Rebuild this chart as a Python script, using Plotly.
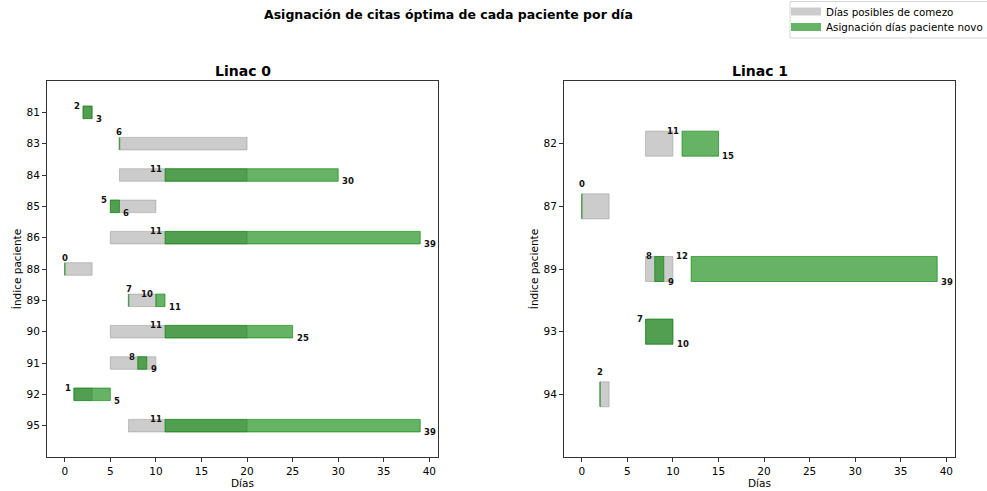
import plotly.graph_objects as go

# ---------------- data ----------------
title_text = "Asignación de citas óptima de cada paciente por día"
subplot_titles = ["Linac 0", "Linac 1"]
legend_possible = "Días posibles de comezo"
legend_assign = "Asignación días paciente novo"
x_axis_title = "Días"
y_axis_title = "Índice paciente"
x_ticks = [0, 5, 10, 15, 20, 25, 30, 35, 40]

# Linac 0
linac0_patients = [81, 83, 84, 85, 86, 88, 89, 90, 91, 92, 95]
linac0_possible_start = [2, 6, 6, 5, 5, 0, 7, 5, 5, 1, 7]
linac0_possible_end = [3, 20, 20, 10, 20, 3, 10, 20, 10, 3, 20]
linac0_assign_patient = [81, 83, 84, 85, 86, 88, 89, 89, 90, 91, 92, 95]
linac0_assign_start = [2, 6, 11, 5, 11, 0, 7, 10, 11, 8, 1, 11]
linac0_assign_end = [3, 6, 30, 6, 39, 0, 7, 11, 25, 9, 5, 39]

# Linac 1
linac1_patients = [82, 87, 89, 93, 94]
linac1_possible_start = [7, 0, 7, 7, 2]
linac1_possible_end = [10, 3, 10, 10, 3]
linac1_assign_patient = [82, 87, 89, 89, 93, 94]
linac1_assign_start = [11, 0, 8, 12, 7, 2]
linac1_assign_end = [15, 0, 9, 39, 10, 2]

# ---------------- styles ----------------
FONT = "DejaVu Sans"
GREY_FILL = "rgba(128,128,128,0.4)"
GREY_LINE = "rgba(128,128,128,0.4)"
GREEN_FILL = "rgba(0,128,0,0.6)"
GREEN_LINE = "rgba(0,128,0,0.6)"
BAR_H = 0.4
W, H = 987, 491

fig = go.Figure()
annotations = []


def px_x(p):
    return p / W


def px_y(p):
    return 1 - p / H


domains_x = [[px_x(47), px_x(438)], [px_x(564), px_x(955)]]
domain_y = [px_y(457), px_y(81)]

datasets = [
    (linac0_patients, linac0_possible_start, linac0_possible_end,
     linac0_assign_patient, linac0_assign_start, linac0_assign_end),
    (linac1_patients, linac1_possible_start, linac1_possible_end,
     linac1_assign_patient, linac1_assign_start, linac1_assign_end),
]

for k, (pats, ps, pe, ap, ast, aen) in enumerate(datasets):
    xa = "x" if k == 0 else "x2"
    ya = "y" if k == 0 else "y2"
    idx = {p: i for i, p in enumerate(pats)}

    # possible start days (grey)
    fig.add_trace(go.Bar(
        orientation="h", y=[idx[p] for p in pats],
        x=[e - s for s, e in zip(ps, pe)], base=ps, width=BAR_H,
        marker=dict(color=GREY_FILL, line=dict(color=GREY_LINE, width=1)),
        xaxis=xa, yaxis=ya, showlegend=False, hoverinfo="skip",
    ))

    # assigned days (green), non-zero width
    nz = [(p, s, e) for p, s, e in zip(ap, ast, aen) if e > s]
    fig.add_trace(go.Bar(
        orientation="h", y=[idx[p] for p, s, e in nz],
        x=[e - s for p, s, e in nz], base=[s for p, s, e in nz], width=BAR_H,
        marker=dict(color=GREEN_FILL, line=dict(color=GREEN_LINE, width=1)),
        xaxis=xa, yaxis=ya, showlegend=False, hoverinfo="skip",
    ))

    # assigned days with zero width -> thin vertical edge
    zx, zy = [], []
    for p, s, e in zip(ap, ast, aen):
        if e == s:
            zx += [s, s, None]
            zy += [idx[p] - BAR_H / 2, idx[p] + BAR_H / 2, None]
    if zx:
        fig.add_trace(go.Scatter(
            x=zx, y=zy, mode="lines", line=dict(color=GREEN_LINE, width=1.5),
            xaxis=xa, yaxis=ya, showlegend=False, hoverinfo="skip",
        ))

    # labels
    lab_font = dict(family=FONT, size=8.5, color="#111", weight="bold")
    for p, s, e in zip(ap, ast, aen):
        i = idx[p]
        if e == s:
            annotations.append(dict(
                x=s, y=i - 0.36, xref=xa, yref=ya, text=str(s), showarrow=False,
                xanchor="center", yanchor="middle", font=lab_font))
        else:
            annotations.append(dict(
                x=s, y=i - BAR_H / 2, xref=xa, yref=ya, text=str(s), showarrow=False,
                xanchor="right", yanchor="middle", xshift=-1, font=lab_font))
            annotations.append(dict(
                x=e, y=i + BAR_H / 2, xref=xa, yref=ya, text=str(e), showarrow=False,
                xanchor="left", yanchor="middle", xshift=2, font=lab_font))

    # subplot title
    annotations.append(dict(
        x=(domains_x[k][0] + domains_x[k][1]) / 2, y=px_y(71), xref="paper", yref="paper",
        text=subplot_titles[k], showarrow=False, xanchor="center", yanchor="middle",
        font=dict(family=FONT, size=14, color="#000", weight="bold")))

    axis_common = dict(
        showline=True, mirror=True, linecolor="#333", linewidth=1,
        ticks="outside", ticklen=4, tickwidth=1, tickcolor="#333",
        showgrid=False, zeroline=False,
        tickfont=dict(family=FONT, size=10.5, color="#000"),
    )
    xaxis = dict(axis_common, domain=domains_x[k], range=[-1.95, 40.95],
                 tickvals=x_ticks, anchor=ya,
                 title=dict(text=x_axis_title, standoff=4,
                            font=dict(family=FONT, size=10.5, color="#000")))
    yaxis = dict(axis_common, domain=domain_y, range=[len(pats), -1],
                 tickvals=list(range(len(pats))), ticktext=[str(p) for p in pats],
                 anchor=xa,
                 title=dict(text=y_axis_title, standoff=2,
                            font=dict(family=FONT, size=10.5, color="#000")))
    if k == 0:
        fig.update_layout(xaxis=xaxis, yaxis=yaxis)
    else:
        fig.update_layout(xaxis2=xaxis, yaxis2=yaxis)

# legend entries (one legend per row, framed by a common box)
fig.add_trace(go.Scatter(x=[None], y=[None], mode="lines", name=legend_possible,
                         line=dict(color=GREY_FILL, width=8), hoverinfo="skip",
                         legend="legend"))
fig.add_trace(go.Scatter(x=[None], y=[None], mode="lines", name=legend_assign,
                         line=dict(color=GREEN_FILL, width=8), hoverinfo="skip",
                         legend="legend2"))

leg_common = dict(xanchor="left", yanchor="top", bgcolor="rgba(0,0,0,0)",
                  borderwidth=0, font=dict(family=FONT, size=10.3, color="#000"),
                  itemwidth=30)

# main title
annotations.append(dict(
    x=px_x(448), y=px_y(14), xref="paper", yref="paper", text=title_text,
    showarrow=False, xanchor="center", yanchor="middle",
    font=dict(family=FONT, size=12.5, color="#000", weight="bold")))

fig.update_layout(
    width=W, height=H,
    margin=dict(l=0, r=0, t=0, b=0, autoexpand=False),
    barmode="overlay",
    plot_bgcolor="white", paper_bgcolor="white",
    annotations=annotations,
    legend=dict(leg_common, x=px_x(786), y=px_y(-3)),
    legend2=dict(leg_common, x=px_x(786), y=px_y(12.5)),
    shapes=[dict(type="rect", xref="paper", yref="paper",
                 x0=px_x(790), x1=px_x(998), y0=px_y(38), y1=px_y(1.5),
                 line=dict(color="#d6d6d6", width=1), fillcolor="white",
                 layer="below")],
    font=dict(family=FONT),
)

fig.write_html("out.html", config={"displayModeBar": False},
               post_script="document.body.style.margin='0';")
